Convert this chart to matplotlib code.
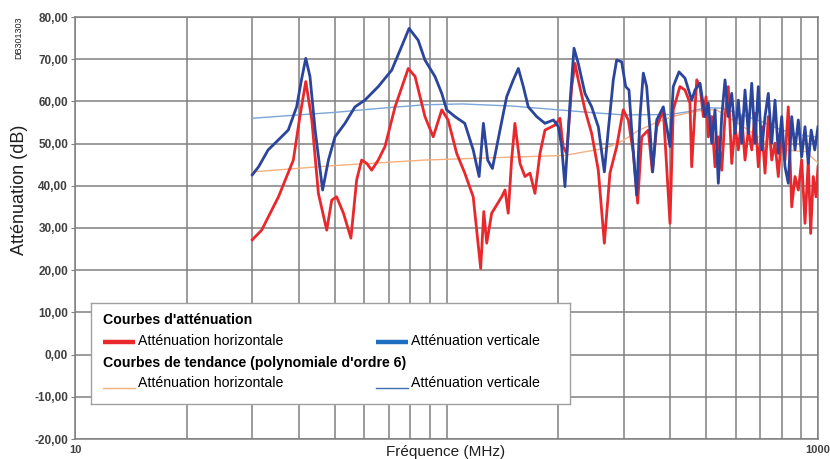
import numpy as np
import matplotlib
matplotlib.use("Agg")
from matplotlib import pyplot as plt
from matplotlib.ticker import LogLocator, FixedLocator, NullFormatter, FixedFormatter

plt.rcParams["font.family"] = ["Liberation Sans", "DejaVu Sans"]

# Atténuation horizontale (freq MHz, dB)
horizFreq = [30.0, 31.8, 35.3, 38.7, 40.3, 41.8, 43.4, 45.2, 47.6, 49.1, 50.6, 52.8, 55.3,
             57.3, 59.1, 61.0, 62.9, 65.5, 68.3, 72.7, 78.9, 82.3, 87.5, 92.1, 97.1, 101,
             106.5, 112, 118, 123.6, 126, 128.3, 132.3, 140.8, 143.7, 146.6, 149.7, 152.8,
             157.7, 162.6, 167.8, 173, 178.5, 184.1, 195.9, 202, 206, 210.6, 217.3, 221.8,
             226.3, 235.9, 245.9, 256.2, 266, 275.4, 287.2, 299, 308.6, 318.4, 327, 335.3,
             349.4, 358.1, 368, 383.3, 399.6, 407.7, 425, 438.5, 452.2, 457.1, 464.6,
             471.6, 481.3, 491.3, 499.5, 506.7, 517.5, 528.2, 539.1, 550.6, 562.0, 573.5,
             585.8, 597.9, 610.3, 623.2, 636.1, 649.3, 663.2, 676.8, 690.8, 705.6, 720.0,
             734.9, 750.6, 766.1, 781.9, 798.6, 815.1, 831.8, 849.6, 867.2, 885.1, 903.9,
             922.6, 941.6, 955.6, 971.1, 987.5, 1000]
horizDb = [27.2, 29.5, 37.4, 46.1, 56.4, 64.7, 55.6, 38.2, 29.5, 36.6, 37.4, 33.5, 27.6,
           41.4, 46.1, 45.3, 43.7, 46.1, 49.3, 58.7, 67.8, 65.9, 56.4, 51.6, 58.0, 55.6,
           47.7, 43.0, 37.4, 20.4, 33.9, 26.4, 33.5, 37.4, 39.0, 33.5, 46.1, 54.8,
           45.3, 42.2, 43.0, 38.2, 47.7, 53.2, 54.4, 56.0, 49.3, 47.7, 63.5, 69.0,
           65.1, 58.0, 52.4, 43.7, 26.4, 43.0, 49.3, 58.0, 55.6, 47.7, 35.9, 51.6,
           53.2, 43.3, 54.0, 58.0, 31.1, 58.0, 63.5, 62.7, 59.6, 44.5, 55.6,
           65.1, 63.5, 56.4, 61.1, 51.6, 56.4, 44.5, 51.6, 43.7, 56.4, 63.5,
           45.3, 54.0, 48.5, 56.4, 46.1, 53.2, 48.5, 57.2, 44.5, 54.0, 43.0,
           56.4, 46.1, 50.1, 42.2, 52.4, 46.1, 58.7, 35.0, 42.2, 39.0, 46.1,
           31.1, 46.1, 28.7, 42.2, 37.4, 44.5]

# Atténuation verticale (freq MHz, dB)
vertFreq = [30.0, 31.2, 33.1, 35.3, 37.5, 39.5, 40.7, 41.8, 42.9, 44.3, 46.4, 48.1, 50.1,
            53.3, 56.7, 60.3, 65.5, 71.2, 75.7, 79.3, 83.9, 87.5, 93.1, 97.1, 100.1, 105.4,
            112, 118, 122.4, 125.7, 129.1, 132.9, 139.3, 145.2, 151.3, 156.1, 161, 166,
            174.9, 184.1, 194, 200, 204.2, 208.4, 215, 220.4, 226.3, 235.9, 245.9, 256.2,
            266, 272.6, 281.2, 287.1, 296.1, 303.6, 309.9, 315.1, 325, 331.8, 338.7, 345.8,
            353.0, 358.9, 368.0, 383.3, 399.6, 407.7, 422.5, 438.5, 457.1,
            466.6, 481.3, 496.4, 506.7, 517.5, 528.2, 539.1, 550.6, 562.0, 573.5, 585.8,
            597.9, 610.3, 623.2, 636.1, 649.3, 663.2, 676.8, 690.8, 705.6, 720.0, 734.9,
            750.6, 766.1, 781.9, 798.6, 815.1, 831.8, 849.6, 867.2, 885.1, 903.9, 922.6,
            941.6, 958.6, 980, 1000]
vertDb = [42.6, 44.5, 48.5, 50.9, 53.2, 58.7, 65.1, 70.2, 65.9, 53.2, 39.0, 46.1, 51.6,
          54.8, 58.7, 60.3, 63.5, 67.4, 73.0, 77.3, 74.5, 69.8, 65.9, 61.9, 58.0, 56.4,
          54.8, 48.5, 42.2, 54.8, 46.1, 44.1, 53.2, 61.1, 65.1, 67.8, 63.5, 58.7,
          56.4, 54.8, 55.6, 54.0, 49.3, 39.8, 59.6, 72.6, 69.0, 61.9, 58.7, 54.0,
          43.3, 53.2, 65.1, 69.8, 69.4, 63.5, 62.7, 53.2, 37.8, 56.4, 66.7, 63.5,
          53.2, 43.3, 55.6, 58.7, 49.3, 63.5, 67.0, 65.5, 60.3,
          62.7, 64.3, 56.4, 59.6, 50.1, 58.0, 40.6, 56.4, 65.1, 56.4, 61.9,
          52.4, 60.3, 50.1, 62.7, 52.4, 64.3, 50.1, 63.5, 48.5, 56.4, 61.9,
          50.1, 60.3, 47.7, 56.4, 44.5, 40.6, 56.4, 48.5, 55.6, 46.9, 54.0,
          45.3, 53.2, 48.5, 54.0]

# Courbes de tendance (polynomiale d'ordre 6)
trendHFreq = [30, 50, 87.5, 150, 208, 267, 296, 330, 363, 405, 465, 500, 533, 590, 667,
              729, 805, 930, 980, 1000]
trendHDb = [43.3, 44.8, 46.1, 46.8, 47.2, 48.9, 50.5, 53.2, 54.8, 56.4, 57.6, 58.0, 58.0,
            55.6, 52.5, 50.1, 48.5, 48.1, 46.1, 45.5]
trendVFreq = [30, 40, 50, 65, 87.5, 110, 150, 200, 250, 300, 400, 450, 500, 550, 600, 700,
              800, 900, 1000]
trendVDb = [56.0, 56.8, 57.4, 58.3, 59.2, 59.4, 58.9, 58.0, 57.3, 56.8, 56.9, 57.6, 58.5,
            58.4, 57.4, 55.3, 53.2, 52.0, 51.5]

yTicks = list(range(-20, 81, 10))
yTickLabels = [f"{v},00" for v in yTicks]

RED = "#e8282c"
BLUE = "#2b449c"
ORANGE = "#f6b07c"
LIGHTBLUE = "#7aa6d8"
GRID = "#808080"

W, H = 830, 459
fig = plt.figure(figsize=(W / 100, H / 100), dpi=100)
ax = fig.add_axes([75 / W, 1 - 439 / H, (818 - 75) / W, (439 - 17) / H])

ax.plot(trendHFreq, trendHDb, color=ORANGE, lw=1.0, zorder=3)
ax.plot(trendVFreq, trendVDb, color=LIGHTBLUE, lw=1.0, zorder=3)
ax.plot(horizFreq, horizDb, color=RED, lw=2.0, zorder=4)
ax.plot(vertFreq, vertDb, color=BLUE, lw=2.0, zorder=5)

ax.set_xscale("log")
ax.set_xlim(10, 1000)
ax.set_ylim(-20, 80)
ax.xaxis.set_major_locator(FixedLocator([10, 100, 1000]))
ax.xaxis.set_major_formatter(FixedFormatter(["10", "", "1000"]))
ax.xaxis.set_minor_locator(LogLocator(base=10, subs=np.arange(2, 10)))
ax.xaxis.set_minor_formatter(NullFormatter())
ax.set_yticks(yTicks)
ax.set_yticklabels(yTickLabels)

ax.grid(True, which="both", color=GRID, lw=1.1, zorder=0)
ax.set_axisbelow(True)
for s in ax.spines.values():
    s.set_color(GRID)
    s.set_linewidth(1.1)
ax.tick_params(axis="x", which="both", length=0, colors="#404040", labelsize=8, pad=4)
ax.tick_params(axis="y", length=3, color=GRID, labelcolor="#404040", labelsize=8.5, pad=2)
for lbl in ax.get_xticklabels() + ax.get_yticklabels():
    lbl.set_fontweight("bold")

fig.text(20 / W, 1 - 190 / H, "Atténuation (dB)", rotation=90, ha="center", va="center",
         fontsize=13, color="#202020")
fig.text(446 / W, 1 - 452 / H, "Fréquence (MHz)", ha="center", va="center",
         fontsize=11, color="#202020")
fig.text(19 / W, 1 - 38 / H, "DB301303", rotation=90, ha="center", va="center",
         fontsize=6.5, color="#202020")

# legend box drawn by hand (pixel coordinates inside the box)
bx0, by0, bx1, by1 = 91, 303, 570, 404
lg = fig.add_axes([bx0 / W, 1 - by1 / H, (bx1 - bx0) / W, (by1 - by0) / H], zorder=10)
lg.set_xlim(0, bx1 - bx0)
lg.set_ylim(by1 - by0, 0)
lg.set_xticks([])
lg.set_yticks([])
for s in lg.spines.values():
    s.set_color("#a0a0a0")
    s.set_linewidth(1.0)

fs = 10.2
lg.text(12, 17, "Courbes d'atténuation", fontsize=fs, fontweight="bold", va="center")
lg.plot([12, 44], [39, 39], color=RED, lw=3.2, solid_capstyle="butt")
lg.text(47, 38, "Atténuation horizontale", fontsize=fs, va="center")
lg.plot([285, 317], [39, 39], color="#1f6fc0", lw=3.2, solid_capstyle="butt")
lg.text(320, 38, "Atténuation verticale", fontsize=fs, va="center")
lg.text(12, 60, "Courbes de tendance (polynomiale d'ordre 6)", fontsize=fs,
        fontweight="bold", va="center")
lg.plot([12, 44], [85, 85], color=ORANGE, lw=1.0)
lg.text(47, 80, "Atténuation horizontale", fontsize=fs, va="center")
lg.plot([285, 317], [85, 85], color="#3e6fae", lw=1.0)
lg.text(320, 80, "Atténuation verticale", fontsize=fs, va="center")

fig.savefig("out.png", dpi=100)
